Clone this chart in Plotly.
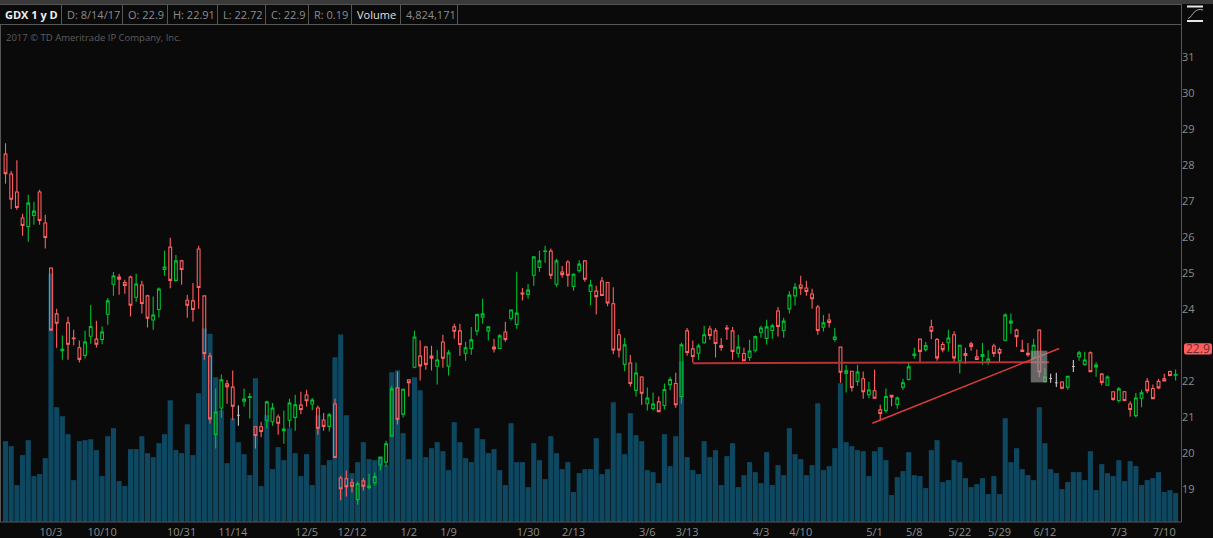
import plotly.graph_objects as go

# daily bars, index 0 is the left-most bar on the chart
opens = [28.30,27.75,27.25,26.53,26.29,26.60,27.25,26.39,25.14,23.87,
         22.85,23.62,23.20,22.93,22.72,23.25,23.17,23.16,23.86,24.69,
         24.89,24.74,24.89,24.33,24.67,24.37,23.70,23.99,25.10,25.72,
         24.80,25.34,24.25,24.23,25.67,24.37,22.70,20.53,21.26,21.93,
         21.84,21.06,21.45,21.55,20.74,20.74,20.92,20.88,21.01,20.63,
         20.92,21.00,
         21.34,21.62,21.37,21.26,20.93,20.75,21.37,19.32,19.30,19.19,18.72,19.24,19.06,19.19,19.68,19.76,20.48,21.82,21.09,22.04,22.39,22.70,22.95,22.70,22.42,23.09,22.42,23.51,23.40,22.78,22.91,23.40,23.78,23.40,22.95,22.91,23.37,23.75,23.58,24.45,24.41,24.94,25.16,25.60,25.61,24.69,25.03,25.31,24.63,25.07,25.34,24.49,24.50,
         24.78,24.74,24.15,23.29,22.47,22.51,21.75,22.12,21.38,21.25,21.43,21.33,21.91,21.94,21.58,23.40,22.90,22.78,23.07,23.45,23.40,22.99,23.48,23.40,22.78,22.77,22.66,22.86,23.36,23.19,23.41,23.95,23.41,24.01,24.37,24.67,24.59,24.42,24.06,23.50,23.70,23.16,22.95,22.22,22.28,22.00,22.07,21.63,21.74,
         21.21,21.19,21.61,21.36,21.84,22.05,22.72,23.17,22.88,23.51,23.16,23.02,23.07,23.29,22.57,22.77,23.04,22.68,22.69,22.54,22.98,22.88,23.14,23.61,23.42,22.87,22.78,22.65,23.42,22.00,22.08,21.96,21.98,21.84,22.41,22.68,22.47,22.79,22.40,22.20,21.89,21.71,21.47,21.71,21.37,21.05,21.53,22.00,21.80,22.00,22.07,22.27,22.17]
closes = [27.76,27.05,26.82,26.32,26.94,26.72,26.46,25.99,23.42,23.61,
          22.89,23.03,23.18,22.61,23.09,23.52,23.03,23.37,24.23,24.92,
          24.83,24.66,24.11,24.70,24.16,23.75,23.84,24.56,25.17,24.80,
          25.34,25.10,24.11,23.99,24.60,22.77,20.96,21.15,22.04,21.85,
          21.31,21.06,21.51,21.58,20.50,20.61,21.43,21.26,20.84,20.68,
          21.40,21.35,
          21.22,21.46,21.48,20.70,20.75,21.07,19.89,19.02,19.08,19.09,19.16,19.09,19.10,19.36,19.90,20.27,21.79,20.95,21.78,21.96,23.23,22.43,22.47,22.64,22.59,22.64,22.79,23.39,23.02,22.93,23.15,23.85,23.87,23.51,22.90,23.26,23.16,23.98,23.89,24.42,24.53,25.45,25.34,25.61,24.94,25.34,24.96,24.94,24.97,25.25,24.83,24.67,24.35,
          24.38,24.17,22.87,22.87,23.01,21.94,22.23,21.67,21.54,21.37,21.16,21.77,22.05,21.35,23.01,22.80,22.69,22.98,23.29,23.27,23.05,22.94,23.45,22.83,22.95,22.57,22.84,23.24,23.48,23.51,23.54,23.52,23.67,24.39,24.61,24.58,24.49,24.29,23.41,23.62,23.63,23.23,22.25,22.29,21.83,22.26,21.71,21.76,21.53,
          21.11,21.58,21.57,21.54,21.96,22.40,22.76,22.83,22.99,23.39,22.65,22.88,23.20,22.65,23.00,22.72,22.97,22.61,22.74,22.62,22.77,22.78,23.84,23.67,23.24,22.83,22.74,23.00,22.26,22.12,22.08,21.96,21.81,22.14,22.41,22.79,22.59,22.27,22.45,21.97,22.12,21.50,21.79,21.47,21.22,21.54,21.68,21.74,21.52,21.82,22.01,22.16,22.19]
highs = [28.60,27.83,28.13,26.65,27.17,26.98,27.31,26.62,25.14,24.01,
         23.27,23.79,23.43,23.13,23.40,24.12,23.68,23.52,24.31,25.03,
         24.98,24.82,24.93,24.98,24.79,24.40,24.35,24.60,25.62,25.98,
         25.50,25.37,24.40,24.73,25.76,24.39,22.79,21.80,22.19,22.04,
         22.30,21.33,21.80,21.68,20.75,20.88,21.46,21.40,21.08,21.19,
         21.52,21.63,
         21.71,21.77,21.54,21.33,21.12,21.12,21.52,19.38,19.53,19.30,19.22,19.32,19.44,19.47,19.91,20.35,21.88,22.27,21.79,22.04,23.40,23.13,22.99,22.99,22.87,23.29,22.87,23.60,23.60,23.10,23.51,23.88,24.29,23.52,23.18,23.31,23.65,23.99,25.04,24.59,24.70,25.46,25.62,25.76,25.68,25.40,25.20,25.36,25.00,25.36,25.36,24.81,24.65,
         24.89,24.75,24.61,23.45,23.20,22.73,22.52,22.14,21.83,21.69,21.58,21.94,22.13,22.24,23.07,23.48,23.13,23.04,23.54,23.54,23.47,23.20,23.56,23.51,23.29,22.93,23.15,23.27,23.54,23.71,23.60,24.06,23.76,24.50,24.73,24.93,24.79,24.57,24.12,23.84,23.88,23.48,22.96,22.45,22.29,22.46,22.27,21.99,22.32,
         21.35,21.80,21.62,21.58,22.07,22.53,22.93,23.18,23.09,23.71,23.20,23.09,23.43,23.39,23.01,22.93,23.10,22.88,23.06,22.86,23.04,22.94,23.89,23.88,23.46,23.15,23.06,23.18,23.43,22.37,22.21,22.24,22.00,22.15,22.59,22.85,22.82,22.83,22.53,22.23,22.16,21.72,21.84,21.73,21.45,21.68,21.77,22.09,21.91,22.07,22.21,22.30,22.33]
lows = [27.48,26.78,26.76,26.04,25.87,26.34,26.34,25.68,23.42,22.93,
        22.60,22.60,23.00,22.52,22.63,23.04,22.94,23.03,23.57,24.37,
        24.40,24.43,23.80,24.21,23.88,23.49,23.43,23.77,24.93,24.58,
        24.77,24.68,23.76,23.65,24.01,22.60,20.83,20.14,20.99,21.38,
        20.92,20.77,21.30,20.97,20.14,20.45,20.69,20.77,20.52,20.27,
        20.72,20.63,
        21.09,21.30,21.20,20.52,20.63,20.61,19.88,18.70,18.81,18.92,18.58,18.97,19.00,19.11,19.53,19.64,20.47,20.80,21.00,21.58,22.36,22.02,22.32,22.30,21.91,22.38,22.16,23.18,22.71,22.57,22.74,23.27,23.60,23.13,22.80,22.91,23.10,23.69,23.46,24.24,24.29,24.65,25.04,25.29,24.84,24.62,24.87,24.62,24.51,25.01,24.76,24.12,23.85,
        24.37,24.08,22.75,22.66,22.28,21.86,21.58,21.35,21.19,21.19,21.16,21.22,21.75,21.27,21.38,22.71,22.52,22.60,23.04,23.15,22.66,22.85,23.15,22.60,22.66,22.55,22.57,22.80,23.21,23.02,23.18,23.24,23.21,23.88,24.10,24.40,24.37,24.01,23.29,23.38,23.49,23.10,21.96,21.69,21.72,21.88,21.52,21.53,21.53,
        20.92,21.13,21.31,21.24,21.76,22.02,22.63,22.51,22.83,23.17,22.57,22.81,22.83,22.54,22.22,22.49,22.85,22.60,22.46,22.46,22.68,22.51,23.11,23.32,22.95,22.82,22.68,22.65,22.11,21.96,21.96,21.84,21.78,21.77,22.26,22.57,22.43,22.25,22.13,21.89,21.88,21.46,21.41,21.45,21.02,21.00,21.28,21.67,21.51,21.79,22.00,22.14,22.02]
# volume in millions of shares
volumes = [13.5,12.67,6.17,11.17,13.67,7.67,8,10.67,41.5,19.17,17.67,14.67,7,13.5,13.67,13.83,12,7.67,14.33,15.67,
           6.83,6,12.17,12.17,14.33,11.5,10.83,13.17,14.67,20.33,12,11.5,16.33,11.17,21.5,32.33,31.44,24.17,18.67,9.83,
           17.33,13.33,11.33,7.83,24,6,17.83,8.83,12.5,10.33,15.67,11.5,7.67,11.33,6.17,17.83,9.5,10.33,27.5,31.33,
           17.83,8.17,10,13.33,10.5,10.33,10.83,9.5,25,25.33,14.83,10.5,24.17,22,10.83,12.33,13.33,11.83,8.67,16.67,
           13.33,10.67,10,15.67,13.83,11.5,12.17,8.67,6.17,16.5,10,10,5.83,13.17,10.33,7.17,14.33,11.5,8.83,10,
           5,8.17,8.83,8.83,14,8,8.83,20,14.83,11.33,18.17,14.5,13.5,8.67,8.33,6.5,14.67,9.33,14.33,26.83,
           10.83,8.67,8,13.5,10.83,12,6.17,11,13.17,5.83,7.83,10,8.33,6.5,11.67,6.17,9.5,7.83,15.67,11.33,
           10.5,7.83,9.5,19.83,8.67,9.33,12.33,23.17,13.33,12.67,12,11.83,7.67,11.83,12.5,10.33,4.5,7.5,8.5,11.67,
           7.83,7.67,5.67,12,13.67,6.67,7,10.33,10,7.33,5.83,6.33,7.33,4.67,7.67,4.67,17.33,10,12.33,8.83,
           7.83,7,19.17,13.17,8.83,8.17,5.5,6.67,8.33,8.33,7,11.83,5.33,9.67,8.17,7.67,10.33,6.83,10.17,9.33,
           6.17,7,7.33,8.33,5,5.33,4.83]

tick_bars = [8,17,31,40,53,61,71,78,92,100,113,120,133,140,153,160,168,175,183,196,204]
tick_labels = ['10/3','10/10','10/31','11/14','12/5','12/12','1/2','1/9','1/30','2/13','3/6','3/13',
               '4/3','4/10','5/1','5/8','5/22','5/29','6/12','7/3','7/10']
# 23 sits under the last price tag
price_ticks = [19,20,21,22,24,25,26,27,28,29,30,31]

last_price = 22.9
support_line = [(121.0, 22.50), (183.7, 22.53)]
trend_line = [(152.6, 20.84), (185.5, 22.91)]
highlight_box = [(180.5, 21.97), (183.4, 22.85)]

BG = '#0a0a0a'
RED = '#ff5f5f'
GREEN = '#00c030'
GRAY = '#c8c8c8'
VOL = '#0d4760'
GRID = '#565656'
TXT = '#8c8c8c'
FONT = 'Open Sans'

W, H = 1213, 538
L, R, T, B = 2, 1181, 25, 522.5


def px(x):
    return (x - L) / (R - L)


def py(y):
    return (B - y) / (B - T)


bars = list(range(len(opens)))
flat = [o == c for o, c in zip(opens, closes)]


def pick(values, want_flat):
    return [v if f == want_flat else None for v, f in zip(values, flat)]


fig = go.Figure()

fig.add_trace(go.Bar(x=bars, y=volumes, marker_color=VOL, marker_line_width=0, yaxis='y', showlegend=False))

# coloured candles, hollow
fig.add_trace(go.Candlestick(
    x=bars, open=pick(opens, False), high=pick(highs, False), low=pick(lows, False), close=pick(closes, False),
    yaxis='y2', whiskerwidth=0, showlegend=False,
    increasing=dict(line=dict(color=GREEN, width=1.1), fillcolor='rgba(0,0,0,0)'),
    decreasing=dict(line=dict(color=RED, width=1.1), fillcolor='rgba(0,0,0,0)'),
))
# open == close days are drawn gray
fig.add_trace(go.Candlestick(
    x=bars, open=pick(opens, True), high=pick(highs, True), low=pick(lows, True), close=pick(closes, True),
    yaxis='y2', whiskerwidth=0, showlegend=False,
    increasing=dict(line=dict(color=GRAY, width=1.1), fillcolor='rgba(0,0,0,0)'),
    decreasing=dict(line=dict(color=GRAY, width=1.1), fillcolor='rgba(0,0,0,0)'),
))

shapes = [
    dict(type='line', xref='x', yref='y2', x0=support_line[0][0], y0=support_line[0][1],
         x1=support_line[1][0], y1=support_line[1][1], line=dict(color='#b83232', width=2)),
    dict(type='line', xref='x', yref='y2', x0=trend_line[0][0], y0=trend_line[0][1],
         x1=trend_line[1][0], y1=trend_line[1][1], line=dict(color='#d83c3c', width=1.5)),
    dict(type='rect', xref='x', yref='y2', x0=highlight_box[0][0], y0=highlight_box[0][1],
         x1=highlight_box[1][0], y1=highlight_box[1][1], line_width=0, fillcolor='rgba(150,150,150,0.65)'),
]


def pline(x0, y0, x1, y1, color=GRID, width=1):
    shapes.append(dict(type='line', xref='paper', yref='paper', x0=px(x0), y0=py(y0), x1=px(x1), y1=py(y1),
                       line=dict(color=color, width=width)))


# header strip
shapes.append(dict(type='rect', xref='paper', yref='paper', x0=px(0), x1=px(W), y0=py(0), y1=py(4),
                   fillcolor='#3a3a3a', line_width=0))
pline(0, 4.5, 1181, 4.5)
pline(0, 24.5, 1181, 24.5)
for sx in [61.5, 122.5, 167.5, 217.5, 265.5, 308.5, 351.5, 400.5, 457.5]:
    pline(sx, 5, sx, 24)
pline(1181.5, 4, 1181.5, 522.5)
pline(0.5, 25, 0.5, 522.5)
pline(0, 522.5, 1181.5, 522.5)

# studies button, top right
pline(1187, 6.5, 1203, 6.5, '#e8e8e8', 2)
pline(1187, 21, 1203, 21, '#e8e8e8', 2)
shapes.append(dict(type='path', xref='paper', yref='paper', line=dict(color='#b0b0b0', width=1),
                   path='M %f %f C %f %f %f %f %f %f C %f %f %f %f %f %f' % (
                       px(1188), py(18.5), px(1191), py(18), px(1192), py(13.5), px(1195), py(11.5),
                       px(1197), py(9.5), px(1200), py(9), px(1203), py(10))))

# rounded last price tag, follows the price axis
x0, x1, c = px(1184), px(1212), px(1186.5)
y0, y1, d = last_price - 0.155, last_price + 0.155, 0.07
shapes.append(dict(type='path', xref='paper', yref='y2', fillcolor=RED, line_width=0,
                   path='M %f %f L %f %f Q %f %f %f %f L %f %f Q %f %f %f %f L %f %f Q %f %f %f %f L %f %f Q %f %f %f %f Z' % (
                       c, y0, x1 - (c - x0), y0, x1, y0, x1, y0 + d, x1, y1 - d, x1, y1, x1 - (c - x0), y1,
                       c, y1, x0, y1, x0, y1 - d, x0, y0 + d, x0, y0, c, y0)))

annotations = []


def label(text, x, y, color=TXT, size=11, anchor='left'):
    annotations.append(dict(text=text, xref='paper', yref='paper', x=px(x), y=py(y), xanchor=anchor, yanchor='middle',
                            showarrow=False, font=dict(family=FONT, size=size, color=color)))


label('<b>GDX 1 y D</b>', 3, 14.5, '#f0f0f0', 11)
label('D: 8/14/17', 65, 14.5)
label('O: 22.9', 126, 14.5)
label('H: 22.91', 171, 14.5)
label('L: 22.72', 221, 14.5)
label('C: 22.9', 269, 14.5)
label('R: 0.19', 312, 14.5)
label('Volume', 355, 14.5, '#e0e0e0')
label('4,824,171', 404, 14.5)
label('2017 © TD Ameritrade IP Company, Inc.', 4, 37.5, '#5e5e5e', 9.5)

annotations.append(dict(text='22.9', xref='paper', yref='y2', x=px(1198), y=last_price, xanchor='center', yanchor='middle',
                        showarrow=False, font=dict(family=FONT, size=12, color='#6e2a2a')))

fig.update_layout(
    width=W, height=H, autosize=False,
    margin=dict(l=L, r=W - R, t=T, b=H - B, pad=0),
    paper_bgcolor=BG, plot_bgcolor=BG,
    bargap=0.1, boxgap=0.3, boxmode='overlay',
    showlegend=False,
    shapes=shapes, annotations=annotations,
    xaxis=dict(range=[-0.62, 206.95], tickmode='array', tickvals=tick_bars, ticktext=tick_labels,
               showgrid=False, zeroline=False, showline=False, ticks='', rangeslider=dict(visible=False),
               tickfont=dict(family=FONT, size=11, color=TXT), ticklabelstandoff=2, automargin=False),
    yaxis=dict(range=[0, 83], visible=False, showgrid=False, zeroline=False, automargin=False),
    yaxis2=dict(range=[18.10, 31.88], overlaying='y', side='right', tickmode='array', tickvals=price_ticks,
                showgrid=False, zeroline=False, showline=False, ticks='', automargin=False,
                tickfont=dict(family=FONT, size=11, color=TXT)),
)

fig.write_html("out.html", config=dict(displayModeBar=False),
               post_script="document.body.style.margin='0';document.body.style.background='%s';" % BG)
